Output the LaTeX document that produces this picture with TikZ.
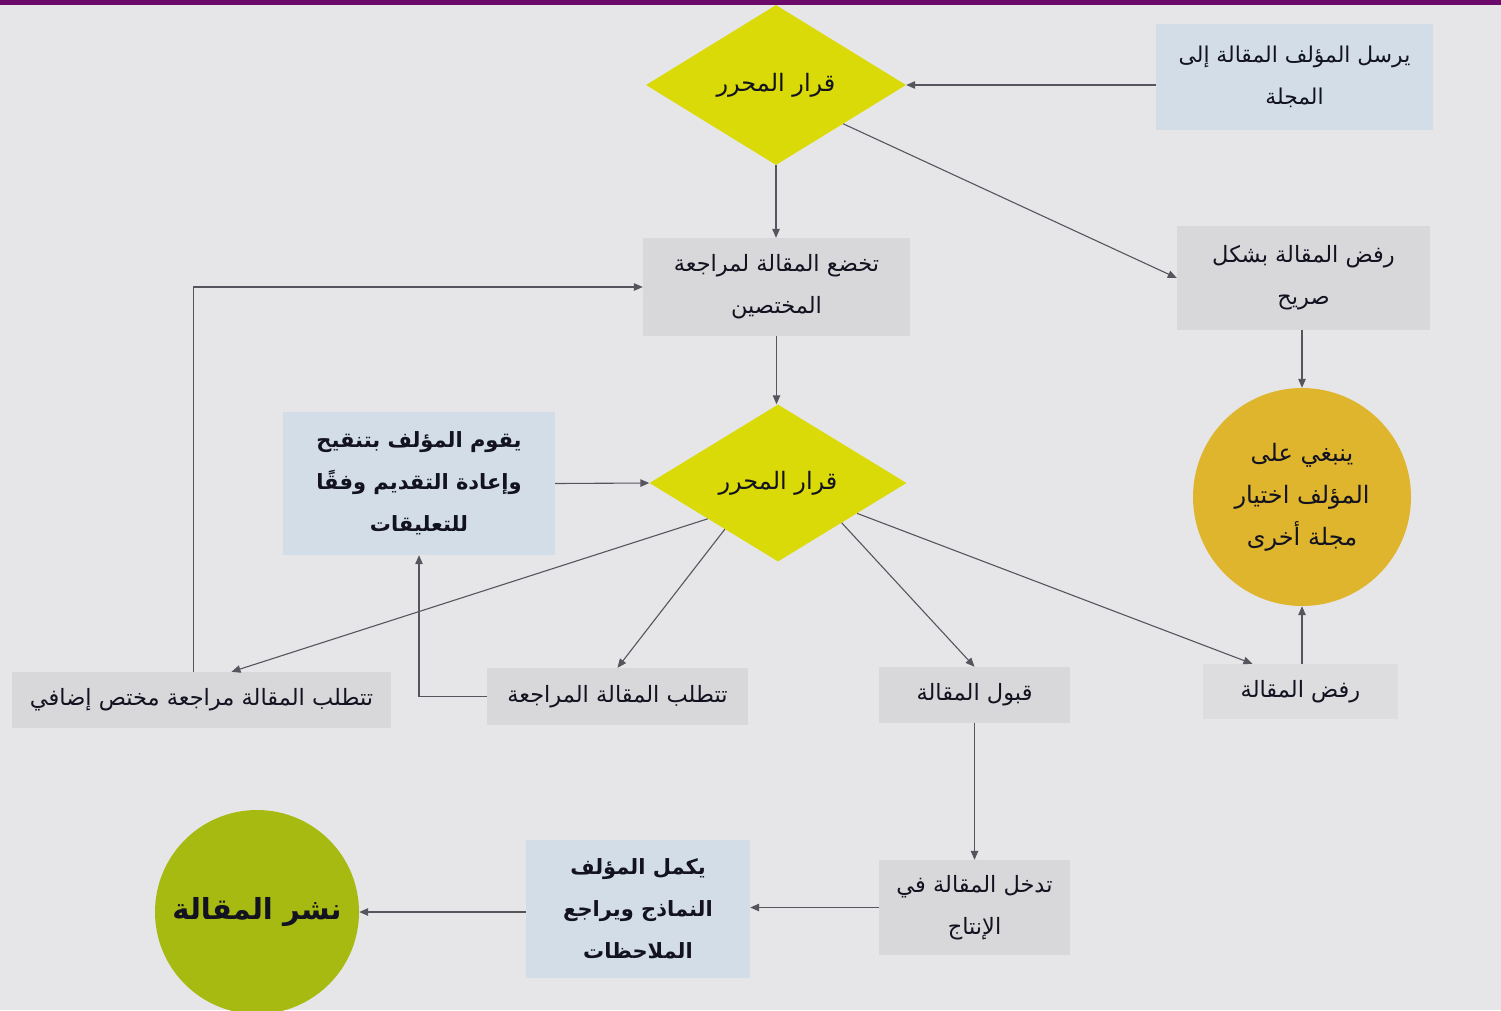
\documentclass[tikz,border=0pt]{standalone}
\usepackage{fontspec}
\usetikzlibrary{shapes.geometric,arrows.meta}
\TeXXeTstate=1
\newfontfamily\arabicfont[Script=Arabic]{DejaVu Sans}
\newcommand{\ar}[1]{{\arabicfont\beginR #1\endR}}
\definecolor{bg}{HTML}{E6E6E8}
\definecolor{topbar}{HTML}{6A0A6A}
\definecolor{diayel}{HTML}{DADA08}
\definecolor{boxblue}{HTML}{D2DDE8}
\definecolor{boxgray}{HTML}{D8D8DA}
\definecolor{boxgraylt}{HTML}{DDDDDF}
\definecolor{gold}{HTML}{DEB52C}
\definecolor{olive}{HTML}{A6BA12}
\definecolor{linec}{HTML}{55555E}
\definecolor{txt}{HTML}{121220}
\begin{document}
\begin{tikzpicture}[x=1pt,y=-1pt,
  every node/.style={text=txt, font=\fontsize{22.5}{42}\selectfont, align=center},
  grayb/.style={rectangle, fill=boxgray, inner sep=0pt},
  blueb/.style={rectangle, fill=boxblue, inner sep=0pt, font=\fontsize{21}{42}\selectfont\bfseries},
  decis/.style={diamond, fill=diayel, inner sep=0pt, minimum width=260pt, minimum height=160pt, font=\fontsize{24}{42}\selectfont},
  conn/.style={draw=linec, line width=1.1pt, -{Triangle[length=9pt,width=7.5pt]}}]
\fill[bg] (0,0) rectangle (1501,1010);
\fill[topbar] (0,0) rectangle (1501,4.5);
\useasboundingbox (0,0) rectangle (1501,1010);

\node[decis] (d1) at (776,85) {\ar{قرار المحرر}};
\node[blueb, font=\fontsize{21.8}{42}\selectfont, minimum width=277pt, minimum height=106pt] (b1) at (1294.5,77) {\ar{يرسل المؤلف المقالة إلى}\\\ar{المجلة}};
\node[grayb, minimum width=267pt, minimum height=98pt] (b3) at (776.5,287) {\ar{تخضع المقالة لمراجعة}\\\ar{المختصين}};
\node[grayb, minimum width=253pt, minimum height=104pt] (b4) at (1303.5,278) {\ar{رفض المقالة بشكل}\\\ar{صريح}};
\node[circle, fill=gold, minimum size=218pt, inner sep=0pt, font=\fontsize{24}{42}\selectfont] (c1) at (1302,497) {\ar{ينبغي على}\\\ar{المؤلف اختيار}\\\ar{مجلة أخرى}};
\node[decis, minimum width=257pt, minimum height=157pt] (d2) at (778,483) {\ar{قرار المحرر}};
\node[blueb, minimum width=272pt, minimum height=143pt] (b7) at (419,483.5) {\ar{يقوم المؤلف بتنقيح}\\\ar{وإعادة التقديم وفقًا}\\\ar{للتعليقات}};
\node[grayb, minimum width=379pt, minimum height=56pt] (b8) at (201.5,700) {\ar{تتطلب المقالة مراجعة مختص إضافي}};
\node[grayb, minimum width=261pt, minimum height=57pt] (b9) at (617.5,696.5) {\ar{تتطلب المقالة المراجعة}};
\node[grayb, minimum width=191pt, minimum height=56pt] (b10) at (974.5,695) {\ar{قبول المقالة}};
\node[grayb, fill=boxgraylt, minimum width=195pt, minimum height=55pt] (b11) at (1300.5,691.5) {\ar{رفض المقالة}};
\node[grayb, minimum width=191pt, minimum height=95pt] (b12) at (974.5,907.5) {\ar{تدخل المقالة في}\\\ar{الإنتاج}};
\node[blueb, minimum width=224pt, minimum height=138pt] (b13) at (638,909) {\ar{يكمل المؤلف}\\\ar{النماذج ويراجع}\\\ar{الملاحظات}};
\node[circle, fill=olive, minimum size=204pt, inner sep=0pt, font=\fontsize{29}{40}\selectfont\bfseries] (c2) at (257,912) {\ar{نشر المقالة}};

\draw[conn] (b1.west |- d1.east) -- (d1.east);
\draw[conn] (d1.330) -- (b4.west);
\draw[conn] (d1.south) -- (d1.south |- b3.north);
\draw[conn] (b3.south) -- (b3.south |- d2.north);
\draw[conn] (c1.north |- b4.south) -- (c1.north);
\draw[conn] (b7.east) -- (d2.west);
\draw[conn] (d2.207) -- ([xshift=30pt]b8.north);
\draw[conn] (d2.221) -- (b9.north);
\draw[conn] (d2.328) -- (b10.north);
\draw[conn] (d2.339) -- ([xshift=-48pt]b11.north);
\draw[conn] (c1.south |- b11.north) -- (c1.south);
\draw[conn] ([xshift=-8pt]b8.north) |- (b3.west);
\draw[conn] (b9.west) -| (b7.south);
\draw[conn] (b10.south) -- (b12.north);
\draw[conn] (b12.west) -- (b12.west -| b13.east);
\draw[conn] (c2.east -| b13.west) -- (c2.east);
\end{tikzpicture}
\end{document}
